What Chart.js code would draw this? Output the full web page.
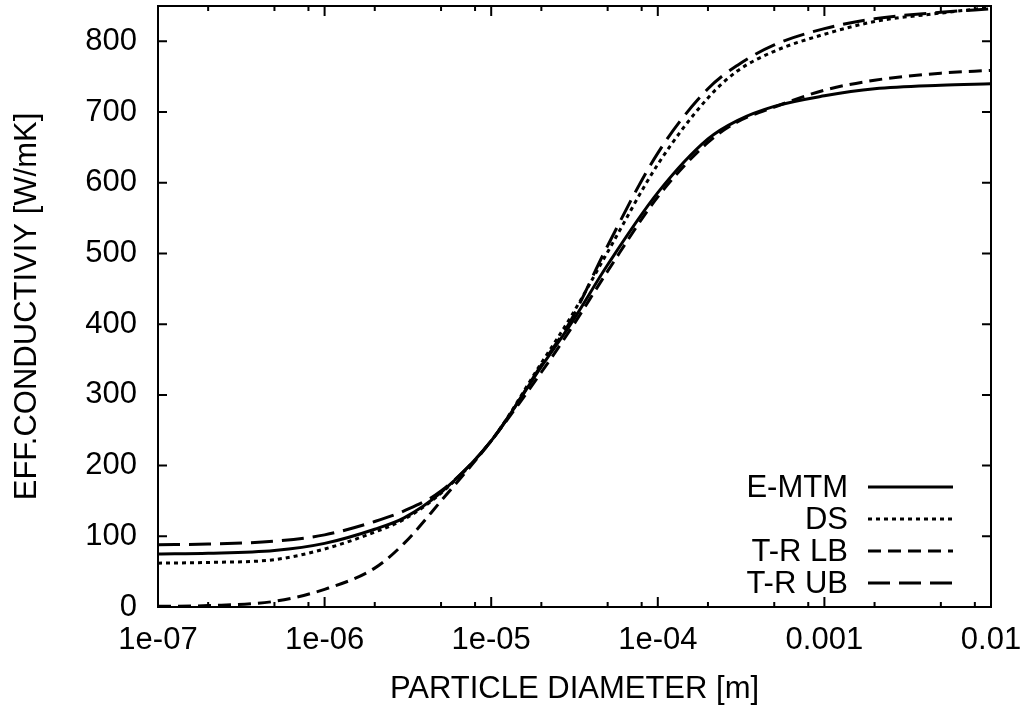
<!DOCTYPE html>
<html>
<head>
<meta charset="utf-8">
<script src="https://cdn.jsdelivr.net/npm/chart.js@4.4.1/dist/chart.umd.min.js"></script>
<style>
  html, body { margin: 0; padding: 0; background: #fff; }
</style>
</head>
<body>
<canvas id="chart" width="1030" height="710"></canvas>
<script>
"use strict";
// particle diameter [m]
const diameters = [1e-7, 2e-7, 5e-7, 1e-6, 2e-6, 3e-6, 5e-6, 1e-5, 2e-5, 3e-5, 5e-5,
  1e-4, 2e-4, 3e-4, 5e-4, 1e-3, 2e-3, 5e-3, 1e-2];
// effective conductivity [W/mK]
const emtm = [75, 76, 80, 90, 110, 126, 162, 235, 340, 400, 484, 586, 662, 688, 708, 723, 733, 738, 740];
const ds = [62, 63, 67, 82, 106, 124, 161, 235, 345, 410, 502, 626, 720, 758, 786, 810, 828, 840, 848];
const trLB = [1, 2, 8, 25, 55, 90, 150, 235, 332, 393, 475, 580, 657, 686, 707, 731, 745, 755, 759];
const trUB = [88, 89, 93, 102, 121, 136, 164, 235, 342, 405, 511, 642, 733, 766, 795, 818, 832, 841, 846];

const xTicks = [1e-7, 1e-6, 1e-5, 1e-4, 1e-3, 1e-2];
const xTickLabels = ["1e-07", "1e-06", "1e-05", "1e-04", "0.001", "0.01"];
const xMinorFactors = [2, 5, 8];
const yTicks = [0, 100, 200, 300, 400, 500, 600, 700, 800];

const toPoints = (vals) => vals.map((v, i) => ({ x: diameters[i], y: v }));

const FONT = "'Liberation Sans', Arial, Helvetica, sans-serif";
Chart.defaults.font.family = FONT;
Chart.defaults.font.size = 31;
Chart.defaults.color = "#000";

const frameAndKey = {
  id: "frameAndKey",
  afterDatasetsDraw(chart) {
    const ctx = chart.ctx;
    const a = chart.chartArea;
    const sx = chart.scales.x;
    const sy = chart.scales.y;
    ctx.save();
    ctx.strokeStyle = "#000";
    ctx.lineWidth = 2;
    ctx.setLineDash([]);
    ctx.beginPath();
    yTicks.forEach((v) => {
      const p = sy.getPixelForValue(v);
      ctx.moveTo(a.left, p); ctx.lineTo(a.left + 9, p);
      ctx.moveTo(a.right, p); ctx.lineTo(a.right - 9, p);
    });
    xTicks.forEach((v, i) => {
      const p = sx.getPixelForValue(v);
      ctx.moveTo(p, a.bottom); ctx.lineTo(p, a.bottom - 10);
      ctx.moveTo(p, a.top); ctx.lineTo(p, a.top + 10);
      if (i < xTicks.length - 1) {
        xMinorFactors.forEach((f) => {
          const q = sx.getPixelForValue(v * f);
          ctx.moveTo(q, a.bottom); ctx.lineTo(q, a.bottom - 5);
          ctx.moveTo(q, a.top); ctx.lineTo(q, a.top + 5);
        });
      }
    });
    ctx.stroke();
    ctx.strokeRect(a.left, a.top, a.right - a.left, a.bottom - a.top);

    // key, gnuplot style: text then line sample
    ctx.font = "31px " + FONT;
    ctx.fillStyle = "#000";
    ctx.textAlign = "right";
    ctx.textBaseline = "middle";
    chart.data.datasets.forEach((d, i) => {
      const y = 487 + i * 32;
      ctx.fillText(d.label, 848, y + 1);
      ctx.lineWidth = d.borderWidth;
      ctx.setLineDash(d.borderDash || []);
      ctx.beginPath();
      ctx.moveTo(868, y);
      ctx.lineTo(953, y);
      ctx.stroke();
    });
    ctx.restore();
  },
};

const chartCxt = document.querySelector("#chart").getContext("2d");
new Chart(chartCxt, {
  type: "line",
  data: {
    datasets: [
      { label: "E-MTM", data: toPoints(emtm), borderColor: "#000", borderWidth: 3, borderDash: [] },
      { label: "DS", data: toPoints(ds), borderColor: "#000", borderWidth: 3, borderDash: [4, 4] },
      { label: "T-R LB", data: toPoints(trLB), borderColor: "#000", borderWidth: 3, borderDash: [13, 7] },
      { label: "T-R UB", data: toPoints(trUB), borderColor: "#000", borderWidth: 3, borderDash: [22, 9] },
    ],
  },
  options: {
    responsive: false,
    animation: false,
    devicePixelRatio: 1,
    layout: { padding: { left: 0, right: 39, top: 6, bottom: 0 } },
    elements: {
      point: { radius: 0 },
      line: { cubicInterpolationMode: "monotone", borderCapStyle: "butt" },
    },
    plugins: {
      legend: { display: false },
      tooltip: { enabled: false },
    },
    scales: {
      x: {
        type: "logarithmic",
        min: 1e-7,
        max: 1e-2,
        afterBuildTicks: (scale) => {
          scale.ticks = xTicks.map((v) => ({ value: v }));
        },
        afterFit: (scale) => {
          scale.height = 103;
          scale.paddingLeft = 0;
          scale.paddingRight = 0;
        },
        grid: { display: false, drawTicks: false },
        border: { display: false },
        ticks: {
          padding: 15,
          maxRotation: 0,
          autoSkip: false,
          callback: (v) => {
            const i = xTicks.findIndex((t) => Math.abs(t - v) / t < 1e-6);
            return i >= 0 ? xTickLabels[i] : "";
          },
        },
        title: {
          display: true,
          text: "PARTICLE DIAMETER [m]",
          padding: { top: 2, bottom: 2 },
        },
      },
      y: {
        type: "linear",
        min: 0,
        max: 850,
        afterBuildTicks: (scale) => {
          scale.ticks = yTicks.map((v) => ({ value: v }));
        },
        afterFit: (scale) => {
          scale.width = 158;
          scale.paddingTop = 0;
          scale.paddingBottom = 0;
        },
        grid: { display: false, drawTicks: false },
        border: { display: false },
        ticks: { padding: 21 },
        title: {
          display: true,
          text: "EFF.CONDUCTIVIY [W/mK]",
          padding: { top: 9, bottom: 9 },
        },
      },
    },
  },
  plugins: [frameAndKey],
});
</script>
</body>
</html>
